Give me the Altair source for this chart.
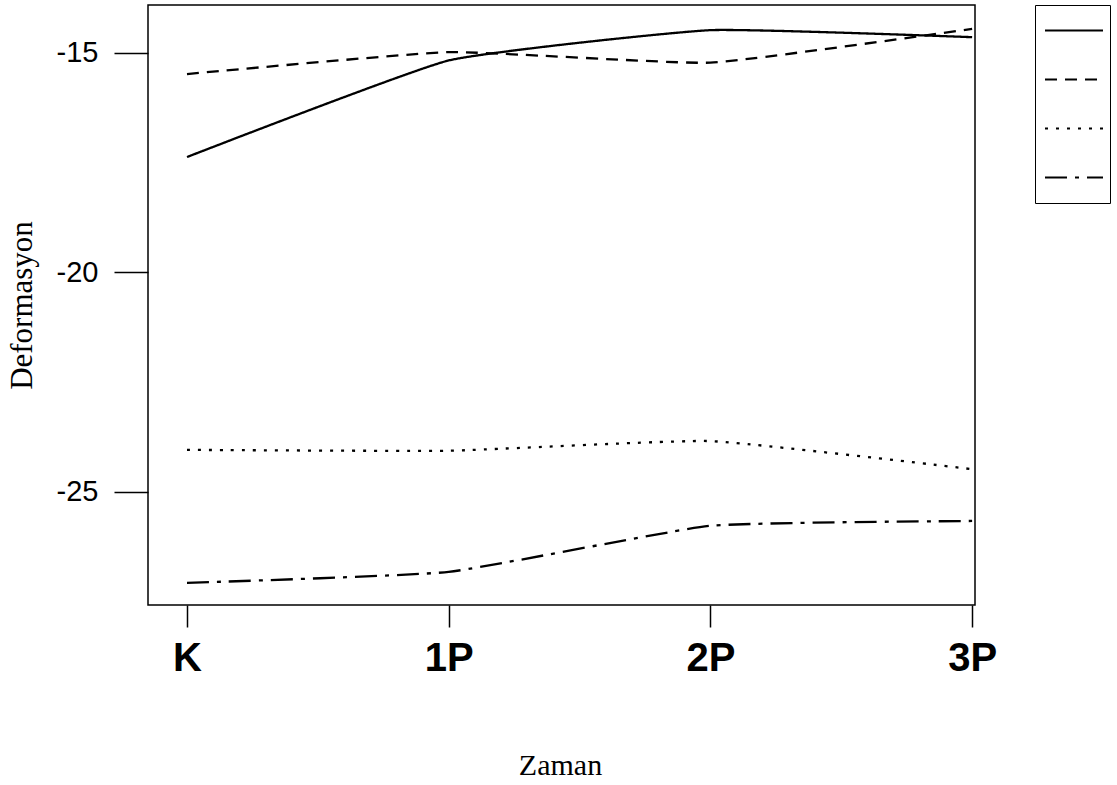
import json
import altair as alt
import pandas as pd

categories = ["K", "1P", "2P", "3P"]
series_names = ["Seri 1", "Seri 2", "Seri 3", "Seri 4"]
s1 = [-17.37, -15.17, -14.48, -14.64]
s2 = [-15.48, -14.98, -15.22, -14.45]
s3 = [-24.04, -24.06, -23.84, -24.48]
s4 = [-27.07, -26.82, -25.77, -25.66]
y_ticks = [-25, -20, -15]

rows = []
for name, vals in zip(series_names, [s1, s2, s3, s4]):
    for i, v in enumerate(vals):
        rows.append({"idx": i, "Zaman": categories[i], "val": v, "seri": name})
df = pd.DataFrame(rows)

label_expr = json.dumps(categories) + "[datum.value]"

dash_range = [[1, 0], [12, 8], [3, 8], [22, 8, 4, 8]]

chart = alt.Chart(df).mark_line(
    interpolate="cardinal", tension=0.6, color="black", strokeWidth=2.3, strokeJoin="round"
).encode(
    x=alt.X(
        "idx:Q",
        scale=alt.Scale(domain=[-0.149, 3.011], nice=False, zero=False),
        axis=alt.Axis(
            values=[0, 1, 2, 3],
            labelExpr=label_expr,
            title="Zaman",
            grid=False,
            domain=False,
            tickSize=22,
            tickWidth=1.5,
            tickColor="black",
            labelPadding=11,
            labelFont="Liberation Sans",
            labelFontSize=40,
            labelFontWeight="bold",
            labelColor="black",
            titleFont="Liberation Serif",
            titleFontSize=30,
            titleFontWeight="normal",
            titleColor="black",
            titleX=412,
            titleY=160,
            titleAlign="center",
            titleBaseline="middle",
        ),
    ),
    y=alt.Y(
        "val:Q",
        scale=alt.Scale(domain=[-27.574, -13.907], nice=False, zero=False),
        axis=alt.Axis(
            values=y_ticks,
            labelExpr="toString(datum.value)",
            title="Deformasyon",
            grid=False,
            domain=False,
            tickSize=34,
            tickWidth=1.5,
            tickColor="black",
            labelPadding=16,
            labelFont="Liberation Sans",
            labelFontSize=29,
            labelColor="black",
            titleFont="Liberation Serif",
            titleFontSize=31,
            titleFontWeight="normal",
            titleColor="black",
            titleAngle=270,
            titleX=-126,
            titleY=300,
            titleAlign="center",
            titleBaseline="middle",
        ),
    ),
    strokeDash=alt.StrokeDash(
        "seri:N",
        scale=alt.Scale(domain=series_names, range=dash_range),
        legend=alt.Legend(
            title=None,
            orient="none",
            legendX=887,
            legendY=0,
            symbolType="stroke",
            symbolSize=3364,
            symbolStrokeWidth=2,
            symbolStrokeColor="black",
            symbolOffset=7,
            clipHeight=47,
            rowPadding=2,
            padding=2,
            labelExpr="''",
            labelOffset=4,
            strokeColor="black",
            fillColor="white",
        ),
    ),
).properties(
    width=827,
    height=600,
    background="white",
    autosize=alt.AutoSizeParams(type="none"),
    padding={"left": 148, "top": 5, "right": 142, "bottom": 180},
).configure_view(
    stroke="black", strokeWidth=1.5
)

chart.save("out.html", embed_options={"renderer": "svg", "actions": False})
